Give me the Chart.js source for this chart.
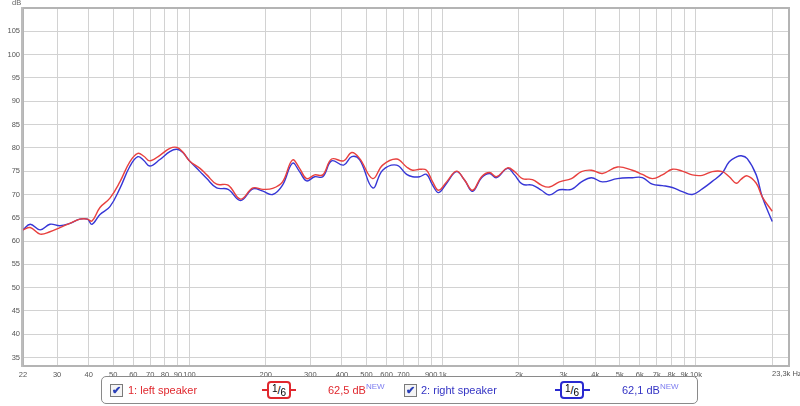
<!DOCTYPE html>
<html>
<head>
<meta charset="utf-8">
<script src="https://cdn.jsdelivr.net/npm/chart.js@4.4.0/dist/chart.umd.min.js"></script>
<style>
  body { margin: 0; background: #fff; font-family: "Liberation Sans", Arial, sans-serif; }
  #wrap { position: relative; width: 800px; height: 406px; }
  .abs { position: absolute; white-space: nowrap; }
  .cb { position: absolute; width: 11px; height: 11px; border: 1px solid #7a7a7a; background: #f4f4f4;
        font-size: 11px; line-height: 11px; text-align: center; color: #2a3fb8; font-weight: bold; }
  .badge { position: absolute; width: 20px; height: 14px; border-radius: 4px; background: #fff;
           font-size: 11px; line-height: 14px; text-align: center; color: #000; }
  .badge .n { position: relative; top: -2px; font-size: 10px; }
  .badge .d { position: relative; top: 2px; font-size: 10px; }
  .dash { position: absolute; height: 2px; }
  .lbl { font-size: 11px; }
  .new { font-size: 8px; color: #7c7cf0; position: relative; top: -5px; }
</style>
</head>
<body>
<div id="wrap">
  <canvas id="chartFR" width="800" height="406"></canvas>
  <span class="abs" style="left:12px;top:-2px;font-size:7.5px;color:#666;">dB</span>
  <span class="abs" style="left:772px;top:369px;font-size:7.5px;color:#555;">23,3k Hz</span>

  <div class="abs" style="left:101px;top:376px;width:595px;height:26px;border:1px solid #8a8a8a;border-radius:5px;"></div>

  <div class="cb" style="left:110px;top:384px;">✔</div>
  <span class="abs lbl" style="left:128px;top:384px;color:#e0282e;">1: left speaker</span>
  <div class="dash" style="left:262px;top:389px;width:34px;background:#e0282e;"></div>
  <div class="badge" style="left:267px;top:381px;border:2px solid #e0282e;"><span class="n">1</span>/<span class="d">6</span></div>
  <span class="abs lbl" style="left:328px;top:384px;color:#e0282e;">62,5 dB<span class="new">NEW</span></span>

  <div class="cb" style="left:404px;top:384px;">✔</div>
  <span class="abs lbl" style="left:421px;top:384px;color:#3434c4;">2: right speaker</span>
  <div class="dash" style="left:555px;top:389px;width:35px;background:#2a2ad0;"></div>
  <div class="badge" style="left:560px;top:381px;border:2px solid #2a2ad0;"><span class="n">1</span>/<span class="d">6</span></div>
  <span class="abs lbl" style="left:622px;top:384px;color:#3434c4;">62,1 dB<span class="new">NEW</span></span>
</div>
<script>
// Frequenzen (Hz) und Pegel (dB)
const freqs = [22, 23.5, 25.7, 28.1, 30.8, 33.7, 36.9, 39.5, 41.2, 44.3, 48.5, 53.1, 58.1, 62.5, 66, 69.7,
  76.4, 83.6, 89.1, 94.1, 100, 110, 117, 128, 142, 159, 178, 195, 213, 233, 255, 272, 290, 312, 336,
  364, 406, 437, 470, 529, 579, 657, 720, 760, 810, 863, 912, 963, 1036, 1133, 1219, 1311, 1423,
  1530, 1630, 1802, 1921, 2064, 2260, 2452, 2638, 2889, 3222, 3529, 3864, 4270, 4893, 5608, 6142,
  6723, 7363, 8063, 8831, 9669, 10589, 11598, 12699, 13534, 14421, 15093, 15937, 17299, 18266, 20000];

const leftSpeaker = [62.4, 62.9, 61.5, 62.0, 62.9, 63.8, 64.7, 64.7, 64.3, 67.2, 69.2, 72.7, 77.0, 78.8, 78.2, 77.2,
  78.4, 79.9, 80.1, 79.1, 77.2, 75.6, 74.2, 72.2, 72.0, 69.0, 71.4, 71.1, 71.3, 72.7, 77.4, 75.6, 73.4, 74.2, 74.2,
  77.6, 77.2, 79.0, 77.7, 73.4, 76.3, 77.6, 75.9, 75.2, 75.4, 75.2, 72.7, 70.9, 72.7, 75.0, 73.1, 70.9, 73.8,
  74.7, 73.8, 75.7, 74.9, 73.4, 73.2, 72.0, 71.6, 72.7, 73.4, 74.9, 75.2, 74.5, 75.9, 75.2, 74.3,
  73.4, 74.2, 75.4, 75.0, 74.2, 74.1, 74.9, 74.9, 73.8, 72.4, 73.3, 74.0, 72.4, 69.5, 66.4];

const rightSpeaker = [62.4, 63.6, 62.4, 63.6, 63.3, 63.8, 64.7, 64.7, 63.6, 65.7, 67.4, 71.3, 76.0, 78.1, 77.3, 76.1,
  77.5, 79.2, 79.7, 79.0, 77.2, 74.9, 73.4, 71.4, 71.1, 68.7, 71.2, 70.7, 70.0, 72.0, 76.7, 74.9, 72.9, 73.8, 73.8,
  77.2, 76.3, 78.1, 77.4, 71.4, 75.2, 76.3, 74.3, 73.8, 73.8, 74.3, 72.0, 70.4, 72.4, 74.9, 73.1, 70.7, 73.6,
  74.5, 73.6, 75.6, 74.2, 72.2, 72.0, 70.9, 69.9, 71.0, 71.1, 72.7, 73.6, 72.7, 73.4, 73.6, 73.6,
  72.2, 71.9, 71.5, 70.6, 70.0, 71.2, 72.8, 74.6, 77.0, 78.0, 78.3, 77.7, 74.2, 69.5, 64.2];

const xTickValues = [22, 30, 40, 50, 60, 70, 80, 90, 100, 200, 300, 400, 500, 600, 700, 800, 900,
  1000, 2000, 3000, 4000, 5000, 6000, 7000, 8000, 9000, 10000, 20000, 23300];
const xTickLabels = ['22', '30', '40', '50', '60', '70', '80', '90', '100', '200', '300', '400', '500', '600', '700', '', '900',
  '1k', '2k', '3k', '4k', '5k', '6k', '7k', '8k', '9k', '10k', '', ''];
const yTickValues = [35, 40, 45, 50, 55, 60, 65, 70, 75, 80, 85, 90, 95, 100, 105];

// Rahmen um den Plotbereich
const framePlugin = {
  id: 'frame',
  beforeDatasetsDraw(chart) {
    const a = chart.chartArea, c = chart.ctx;
    c.save();
    c.strokeStyle = '#b4b4b4';
    c.lineWidth = 2;
    c.strokeRect(a.left, a.top, a.right - a.left, a.bottom - a.top);
    c.fillStyle = '#bcbcbc';
    c.fillRect(a.left - 2, a.top - 1, 2, a.bottom - a.top + 2);
    c.restore();
  }
};

const ctx = document.getElementById('chartFR');
new Chart(ctx.getContext('2d'), {
  type: 'line',
  data: {
    datasets: [
      {
        label: '1: left speaker',
        data: freqs.map((f, i) => ({ x: f, y: leftSpeaker[i] })),
        borderColor: '#e8403e',
        borderWidth: 1.4,
        pointRadius: 0,
        tension: 0.4,
        fill: false
      },
      {
        label: '2: right speaker',
        data: freqs.map((f, i) => ({ x: f, y: rightSpeaker[i] })),
        borderColor: '#3636d6',
        borderWidth: 1.4,
        pointRadius: 0,
        tension: 0.4,
        fill: false
      }
    ]
  },
  options: {
    responsive: false,
    animation: false,
    layout: { padding: { top: 8, right: 11, left: 0, bottom: 0 } },
    plugins: { legend: { display: false }, tooltip: { enabled: false } },
    scales: {
      x: {
        type: 'logarithmic',
        min: 22,
        max: 23300,
        afterFit(scale) { scale.height = 40; },
        afterBuildTicks(scale) { scale.ticks = xTickValues.map(v => ({ value: v })); },
        grid: { color: '#d2d2d2', lineWidth: 1, drawTicks: false },
        border: { display: false },
        ticks: {
          autoSkip: false,
          maxRotation: 0,
          padding: 4,
          color: '#555',
          font: { family: 'Liberation Sans', size: 7.5 },
          callback: function (value) {
            const i = xTickValues.indexOf(value);
            return i >= 0 ? xTickLabels[i] : '';
          }
        }
      },
      y: {
        type: 'linear',
        min: 33.2,
        max: 110,
        afterFit(scale) { scale.width = 23; },
        afterBuildTicks(scale) { scale.ticks = yTickValues.map(v => ({ value: v })); },
        grid: { color: '#d2d2d2', lineWidth: 1, drawTicks: false },
        border: { display: false },
        ticks: {
          padding: 3,
          color: '#555',
          font: { family: 'Liberation Sans', size: 7.5 },
          callback: function (value) { return String(value); }
        }
      }
    }
  },
  plugins: [framePlugin]
});
</script>
</body>
</html>
